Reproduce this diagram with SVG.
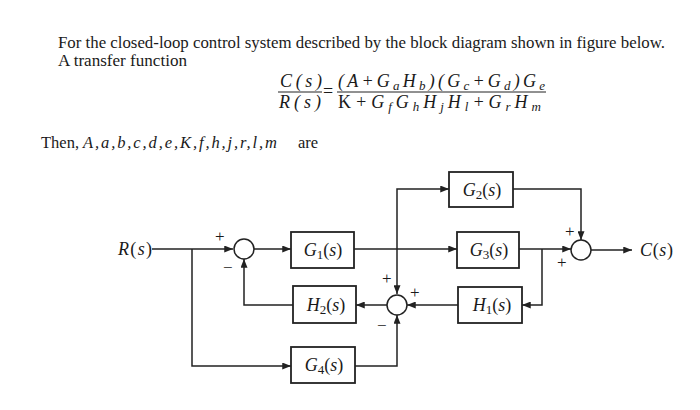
<svg xmlns="http://www.w3.org/2000/svg" width="700" height="410" viewBox="0 0 700 410">
<style>
text{font-family:"Liberation Serif","Times New Roman",serif;fill:#1a1a1a}
.t{font-size:16.5px}
.m{font-size:18px}
.i{font-style:italic}
.sub{font-size:13px;font-style:normal}
.subi{font-size:13px;font-style:italic}
.sg{font-size:17px}
.box{fill:#fff;stroke:#222;stroke-width:1.8}
.sum{fill:#fff;stroke:#222;stroke-width:1.5}
.ln{fill:none;stroke:#222;stroke-width:1.5}
.lbl{font-size:18px;text-anchor:middle}
</style>
<defs>
<marker id="ar" viewBox="0 0 10 8" refX="10" refY="4" markerWidth="10" markerHeight="7" markerUnits="userSpaceOnUse" orient="auto">
<path d="M0,0 L10,4 L0,8 z" fill="#222"/>
</marker>
</defs>
<rect width="700" height="410" fill="#fff"/>

<g id="question">
<text class="t" x="58" y="48" textLength="607" lengthAdjust="spacingAndGlyphs">For the closed-loop control system described by the block diagram shown in figure below.</text>
<text class="t" x="58" y="66" textLength="129" lengthAdjust="spacingAndGlyphs">A transfer function</text>
<text class="m i" x="280" y="87" textLength="42">C(s)</text>
<text class="m i" x="279" y="108" textLength="42">R(s)</text>
<line x1="278" y1="92" x2="322" y2="92" stroke="#222" stroke-width="1"/>
<text class="m" x="323" y="97">=</text>
<line x1="337" y1="92" x2="546" y2="92" stroke="#222" stroke-width="1"/>
<text class="m i" x="338" y="87" textLength="207" lengthAdjust="spacing">(A+G<tspan class="subi" dy="3">a</tspan><tspan dy="-3">H</tspan><tspan class="subi" dy="3">b</tspan><tspan dy="-3">)(G</tspan><tspan class="subi" dy="3">c</tspan><tspan dy="-3">+G</tspan><tspan class="subi" dy="3">d</tspan><tspan dy="-3">)G</tspan><tspan class="subi" dy="3">e</tspan></text>
<text class="m" x="338" y="108" textLength="203" lengthAdjust="spacing">K<tspan class="i">+G</tspan><tspan class="subi" dy="3">f</tspan><tspan class="i" dy="-3">G</tspan><tspan class="subi" dy="3">h</tspan><tspan class="i" dy="-3">H</tspan><tspan class="subi" dy="3">j</tspan><tspan class="i" dy="-3">H</tspan><tspan class="subi" dy="3">l</tspan><tspan class="i" dy="-3">+G</tspan><tspan class="subi" dy="3">r</tspan><tspan class="i" dy="-3">H</tspan><tspan class="subi" dy="3">m</tspan></text>
<text class="t" x="41" y="148">Then,</text>
<text class="t i" x="83" y="148" textLength="194" lengthAdjust="spacing">A,a,b,c,d,e,K,f,h,j,r,l,m</text>
<text class="t" x="298" y="148">are</text>
</g>

<g id="connectors">
<path class="ln" d="M152,249 H233" marker-end="url(#ar)"/>
<path class="ln" d="M192,249 V366 H291" marker-end="url(#ar)"/>
<path class="ln" d="M254,249 H291" marker-end="url(#ar)"/>
<path class="ln" d="M354,249 H457" marker-end="url(#ar)"/>
<path class="ln" d="M397,249 V189 H449" marker-end="url(#ar)"/>
<path class="ln" d="M397,249 V294" marker-end="url(#ar)"/>
<path class="ln" d="M513,189 H581 V240" marker-end="url(#ar)"/>
<path class="ln" d="M519,249 H571" marker-end="url(#ar)"/>
<path class="ln" d="M542,249 V305 H522" marker-end="url(#ar)"/>
<path class="ln" d="M458,305 H407" marker-end="url(#ar)"/>
<path class="ln" d="M387,305 H356" marker-end="url(#ar)"/>
<path class="ln" d="M293,305 H244 V259" marker-end="url(#ar)"/>
<path class="ln" d="M355,366 H397 V315" marker-end="url(#ar)"/>
<path class="ln" d="M591,250 H632" marker-end="url(#ar)"/>
</g>

<g id="R">
<text class="m" x="118" y="255" textLength="34"><tspan class="i">R</tspan>(<tspan class="i">s</tspan>)</text>
</g>
<g id="C">
<text class="m" x="640" y="256" textLength="33"><tspan class="i">C</tspan>(<tspan class="i">s</tspan>)</text>
</g>

<g id="sum1">
<circle class="sum" cx="244" cy="249" r="10"/>
<text class="sg" x="215" y="242">+</text>
<text class="sg" x="223" y="273">−</text>
</g>
<g id="sum2">
<circle class="sum" cx="397" cy="305" r="10"/>
<text class="sg" x="382" y="284">+</text>
<text class="sg" x="410" y="298">+</text>
<text class="sg" x="377" y="331">−</text>
</g>
<g id="sum3">
<circle class="sum" cx="581" cy="250" r="10"/>
<text class="sg" x="565" y="237">+</text>
<text class="sg" x="557" y="268">+</text>
</g>

<g id="G1">
<rect class="box" x="291" y="232" width="63" height="36"/>
<text class="lbl" x="323" y="256"><tspan class="i">G</tspan><tspan class="sub" dy="3">1</tspan><tspan dy="-3">(</tspan><tspan class="i">s</tspan>)</text>
</g>
<g id="G2">
<rect class="box" x="449" y="172" width="64" height="35"/>
<text class="lbl" x="482" y="196"><tspan class="i">G</tspan><tspan class="sub" dy="3">2</tspan><tspan dy="-3">(</tspan><tspan class="i">s</tspan>)</text>
</g>
<g id="G3">
<rect class="box" x="457" y="232" width="62" height="36"/>
<text class="lbl" x="489" y="256"><tspan class="i">G</tspan><tspan class="sub" dy="3">3</tspan><tspan dy="-3">(</tspan><tspan class="i">s</tspan>)</text>
</g>
<g id="H1">
<rect class="box" x="458" y="287" width="64" height="36"/>
<text class="lbl" x="492" y="311"><tspan class="i">H</tspan><tspan class="sub" dy="3">1</tspan><tspan dy="-3">(</tspan><tspan class="i">s</tspan>)</text>
</g>
<g id="H2">
<rect class="box" x="293" y="286" width="63" height="37"/>
<text class="lbl" x="326" y="311"><tspan class="i">H</tspan><tspan class="sub" dy="3">2</tspan><tspan dy="-3">(</tspan><tspan class="i">s</tspan>)</text>
</g>
<g id="G4">
<rect class="box" x="291" y="347" width="64" height="36"/>
<text class="lbl" x="324" y="371"><tspan class="i">G</tspan><tspan class="sub" dy="3">4</tspan><tspan dy="-3">(</tspan><tspan class="i">s</tspan>)</text>
</g>
</svg>
